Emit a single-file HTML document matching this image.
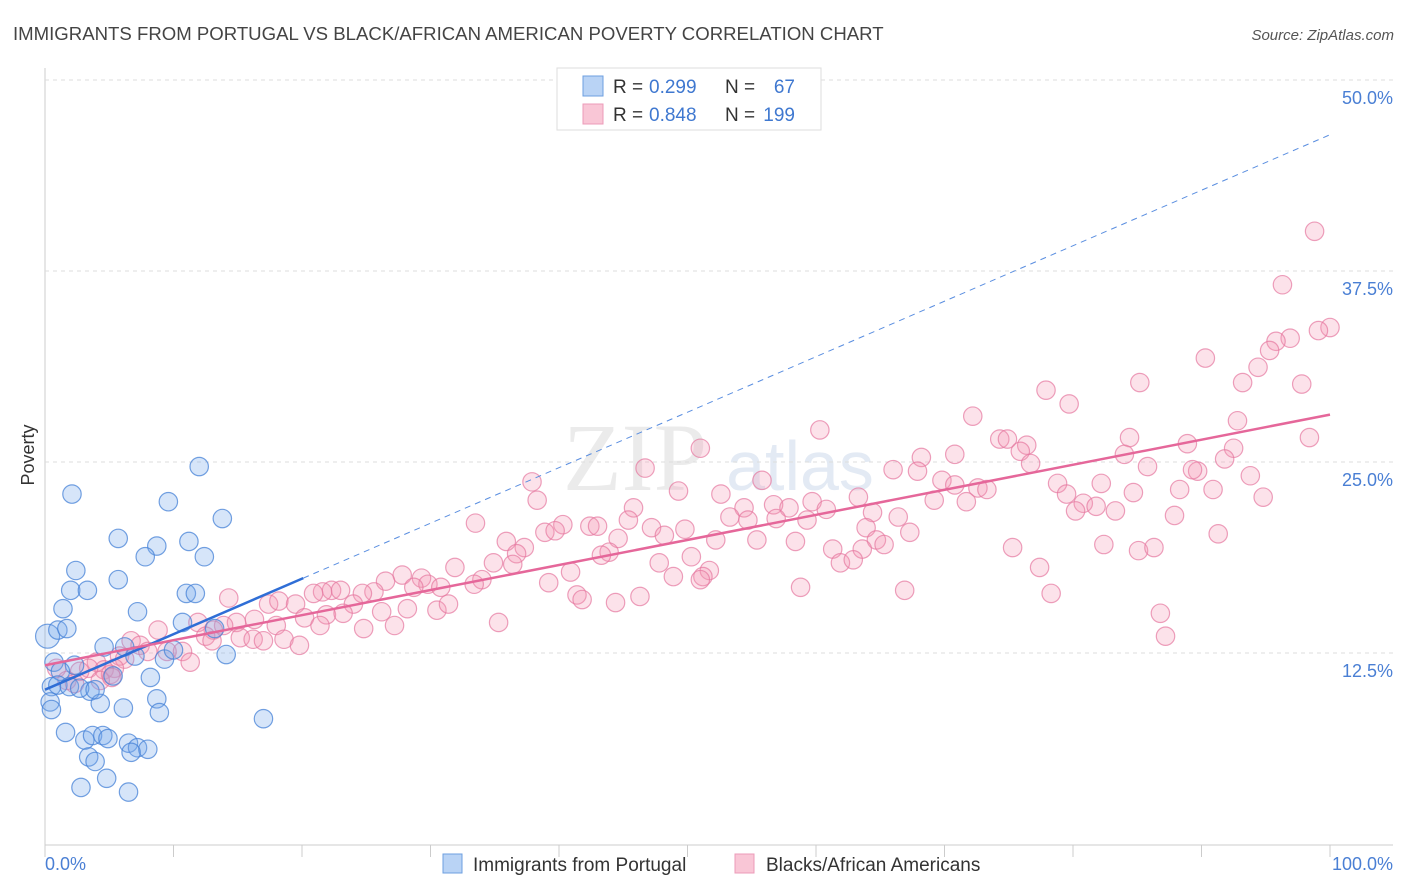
<!DOCTYPE html>
<html><head><meta charset="utf-8">
<style>
body{margin:0;background:#fff;font-family:"Liberation Sans",sans-serif;}
svg{display:block}
</style></head>
<body>
<svg id="chart" width="1406" height="892" xmlns="http://www.w3.org/2000/svg">
<text x="13" y="40" font-size="18.6" fill="#444">IMMIGRANTS FROM PORTUGAL VS BLACK/AFRICAN AMERICAN POVERTY CORRELATION CHART</text>
<text x="1394" y="40" font-size="15" fill="#555" font-style="italic" text-anchor="end">Source: ZipAtlas.com</text>
<text x="635" y="490" font-size="96" fill="#ebebeb" font-family="Liberation Serif,serif" text-anchor="middle">ZIP</text>
<text x="800" y="490" font-size="70" fill="#e3eaf4" text-anchor="middle">atlas</text>
<g id="grid"></g>
<g id="pts"></g>
<g id="lines"></g>
<text transform="translate(34,455) rotate(-90)" font-size="18" fill="#333" text-anchor="middle">Poverty</text>
<text x="45" y="870" font-size="18" fill="#4a7fd4">0.0%</text>
<text x="1393" y="870" font-size="18" fill="#4a7fd4" text-anchor="end">100.0%</text>
<g>
<rect x="557" y="68" width="264" height="62" fill="#fff" stroke="#ddd"/>
<rect x="583" y="76" width="20" height="20" fill="#b9d3f5" stroke="#6d9fe0"/>
<rect x="583" y="104" width="20" height="20" fill="#f9c6d6" stroke="#ec9bb8"/>
<text x="613" y="93" font-size="19" fill="#333">R =</text>
<text x="649" y="93" font-size="19" fill="#3f78d0">0.299</text>
<text x="725" y="93" font-size="19" fill="#333">N =</text>
<text x="795" y="93" font-size="19" fill="#3f78d0" text-anchor="end">67</text>
<text x="613" y="121" font-size="19" fill="#333">R =</text>
<text x="649" y="121" font-size="19" fill="#3f78d0">0.848</text>
<text x="725" y="121" font-size="19" fill="#333">N =</text>
<text x="795" y="121" font-size="19" fill="#3f78d0" text-anchor="end">199</text>
</g>
<rect x="443" y="854" width="19" height="19" fill="#b9d3f5" stroke="#6d9fe0"/>
<text x="473" y="871" font-size="19" fill="#333">Immigrants from Portugal</text>
<rect x="735" y="854" width="19" height="19" fill="#f9c6d6" stroke="#ec9bb8"/>
<text x="766" y="871" font-size="19" fill="#333">Blacks/African Americans</text>
</svg>
<script>
const yTicks=[12.5,25,37.5,50];
const yTickLabels=["12.5%","25.0%","37.5%","50.0%"];
const xTicks=[0,10,20,30,40,50,60,70,80,90,100];
const blueX=[12.0,2.1,9.6,13.8,5.7,8.7,11.2,7.8,12.4,2.4,5.7,2.0,3.3,11.0,11.7,1.4,7.2,10.7,0.2,1.0,1.7,4.6,6.2,13.2,14.1,9.3,0.7,2.3,1.2,8.2,0.5,3.5,4.3,6.1,8.7,0.4,0.5,8.9,17.0,1.6,3.1,3.7,4.5,4.9,6.5,7.2,8.0,6.7,3.4,3.9,4.8,2.8,6.5,1.0,1.9,2.7,3.9,5.3,7.0,10.0];
const blueY=[24.7,22.9,22.4,21.3,20.0,19.5,19.8,18.8,18.8,17.9,17.3,16.6,16.6,16.4,16.4,15.4,15.2,14.5,13.6,14.0,14.1,12.9,12.9,14.1,12.4,12.1,11.9,11.7,11.3,10.9,10.3,10.0,9.2,8.9,9.5,9.3,8.8,8.6,8.2,7.3,6.8,7.1,7.1,6.9,6.6,6.3,6.2,6.0,5.7,5.4,4.3,3.7,3.4,10.4,10.3,10.2,10.1,11.0,12.3,12.7];
const pinkX=[98.8,96.3,100.0,99.1,96.9,95.8,95.3,94.4,90.3,93.2,97.8,85.2,77.9,79.7,72.2,60.3,98.4,92.8,84.4,88.9,74.3,74.9,76.4,75.9,92.5,70.8,68.2,51.0,66.0,91.8,84.0,76.7,67.9,89.7,89.3,93.8,85.8,46.7,37.9,55.8,69.8,70.8,72.6,73.3,78.8,82.2,88.3,90.9,94.8,49.3,52.6,63.3,59.7,79.5,80.8,84.7,38.3,69.2,71.7,81.8,83.3,80.2,56.7,57.9,54.4,53.3,54.7,45.8,60.8,64.4,66.4,56.9,59.3,45.4,40.3,33.5,42.4,43.0,47.2,38.9,39.7,49.8,48.2,67.3,63.9,64.7,87.9,91.3,55.4,58.4,52.2,44.6,35.9,37.3,36.7,65.3,63.6,61.3,82.4,85.1,86.3,75.3,43.9,43.3,50.3,47.8,34.9,51.7,31.9,27.8,29.3,40.9,36.4,61.9,62.9,77.4,34.0,33.4,29.8,28.7,30.8,26.5,25.6,24.7,22.3,23.0,21.6,20.9,48.9,51.2,51.0,39.2,41.4,41.8,46.3,44.4,58.8,66.9,78.3,14.3,17.4,18.2,24.0,19.5,26.2,28.2,30.5,31.4,21.9,23.2,20.2,16.3,14.9,13.9,11.9,13.1,8.8,18.0,21.4,24.8,27.2,35.3,86.8,87.2,15.2,6.7,7.4,12.5,13.0,16.2,18.6,19.8,17.0,9.5,10.7,8.0,5.8,4.0,6.2,11.3,5.4,4.6,3.4,0.9,2.7,1.7,2.3,5.1,4.3,5.2];
const pinkY=[40.1,36.6,33.8,33.6,33.1,32.9,32.3,31.2,31.8,30.2,30.1,30.2,29.7,28.8,28.0,27.1,26.6,27.7,26.6,26.2,26.5,26.5,26.1,25.7,25.9,25.5,25.3,25.9,24.5,25.2,25.5,24.9,24.4,24.4,24.5,24.1,24.7,24.6,23.7,23.8,23.8,23.5,23.3,23.2,23.6,23.6,23.2,23.2,22.7,23.1,22.9,22.7,22.4,22.9,22.3,23.0,22.5,22.5,22.4,22.1,21.8,21.8,22.2,22.0,22.0,21.4,21.2,22.0,21.9,21.7,21.4,21.3,21.2,21.2,20.9,21.0,20.8,20.8,20.7,20.4,20.5,20.6,20.2,20.4,20.7,19.9,21.5,20.3,19.9,19.8,19.9,20.0,19.8,19.4,19.0,19.6,19.3,19.3,19.6,19.2,19.4,19.4,19.1,18.9,18.8,18.4,18.4,17.9,18.1,17.6,17.4,17.8,18.3,18.4,18.6,18.1,17.3,17.0,17.0,16.8,16.8,17.2,16.5,16.4,16.6,16.6,16.5,16.4,17.5,17.5,17.3,17.1,16.3,16.0,16.2,15.8,16.8,16.6,16.4,16.1,15.7,15.9,15.7,15.7,15.2,15.4,15.3,15.7,15.0,15.1,14.8,14.7,14.5,14.3,14.5,14.0,14.0,14.3,14.3,14.1,14.3,14.5,15.1,13.6,13.5,13.3,13.0,13.6,13.3,13.4,13.4,13.0,13.3,12.6,12.6,12.6,12.3,11.9,12.1,11.9,11.5,11.4,11.5,11.5,11.3,10.7,10.5,11.1,10.7,10.9];
const blueTrend=[10.1,17.4];
const blueTrendX=[0,20.1];
const pinkTrend=[11.7,28.1];
const X0=45,X1=1330,Y0=844,PXPCT=15.28;
function sx(v){return X0+(X1-X0)*v/100;}
function sy(v){return Y0-v*PXPCT;}
const NS="http://www.w3.org/2000/svg";
function mk(tag,attrs,parent){const e=document.createElementNS(NS,tag);for(const k in attrs)e.setAttribute(k,attrs[k]);parent.appendChild(e);return e;}
const grid=document.getElementById('grid');
mk('line',{x1:45,y1:68,x2:45,y2:845,stroke:'#ccc'},grid);
mk('line',{x1:45,y1:845,x2:1393,y2:845,stroke:'#ccc'},grid);
yTicks.forEach((t,i)=>{
  const g=mk('line',{x1:45,y1:sy(t),x2:1393,y2:sy(t),stroke:'#ddd','stroke-dasharray':'4,4'},grid);
  
  
  const tx=mk('text',{x:1393,y:sy(t)+24,'font-size':18,fill:'#4a7fd4','text-anchor':'end'},grid);
  tx.textContent=yTickLabels[i];
  
  
});
xTicks.forEach(t=>{
  const l=mk('line',{x1:sx(t),y1:845,x2:sx(t),y2:857,stroke:'#ccc'},grid);
  
  
});
const pts=document.getElementById('pts');
pinkX.forEach((x,i)=>{
  const c=mk('circle',{cx:sx(x),cy:sy(pinkY[i]),r:9.2,fill:'rgba(243,150,180,0.28)',stroke:'rgba(230,120,160,0.7)','stroke-width':1.2},pts);
  
  
});
blueX.forEach((x,i)=>{
  const c=mk('circle',{cx:sx(x),cy:sy(blueY[i]),r:i==18?12:9.2,fill:'rgba(120,170,235,0.3)',stroke:'rgba(70,130,215,0.75)','stroke-width':1.2},pts);
  
  
});
const lines=document.getElementById('lines');
const slope=(blueTrend[1]-blueTrend[0])/(blueTrendX[1]-blueTrendX[0]);
const bd=mk('line',{x1:sx(blueTrendX[1]),y1:sy(blueTrend[1]),x2:sx(100),y2:sy(blueTrend[0]+slope*100),stroke:'#5a8ee0','stroke-width':1,'stroke-dasharray':'6,5'},lines);


const bl=mk('line',{x1:sx(0),y1:sy(blueTrend[0]),x2:sx(blueTrendX[1]),y2:sy(blueTrend[1]),stroke:'#2f6ed6','stroke-width':2.5},lines);


const pl=mk('line',{x1:sx(0),y1:sy(pinkTrend[0]),x2:sx(100),y2:sy(pinkTrend[1]),stroke:'#e5679a','stroke-width':2.5},lines);


</script>
</body></html>
